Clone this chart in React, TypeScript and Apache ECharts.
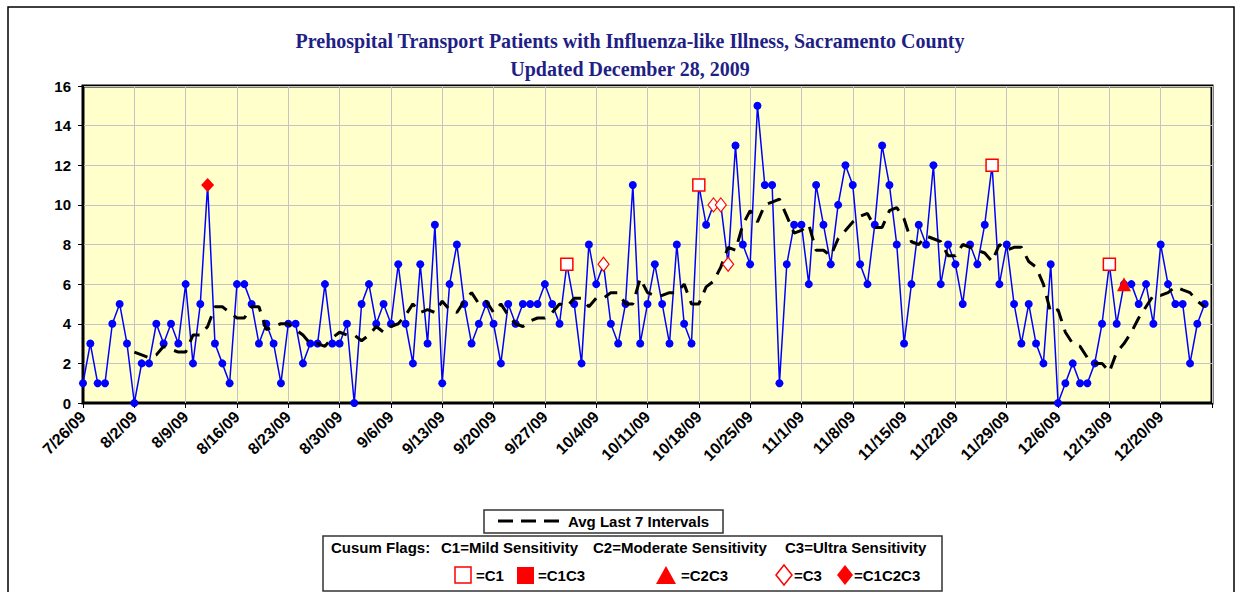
import React, { useEffect, useRef } from "react";
import * as echarts from "echarts";

// Weekly tick labels (every 7 days from 7/26/09)
const tickLabels = [
  "7/26/09", "8/2/09", "8/9/09", "8/16/09", "8/23/09", "8/30/09", "9/6/09",
  "9/13/09", "9/20/09", "9/27/09", "10/4/09", "10/11/09", "10/18/09", "10/25/09",
  "11/1/09", "11/8/09", "11/15/09", "11/22/09", "11/29/09", "12/6/09", "12/13/09",
  "12/20/09",
];

// Daily patient counts, day 0 = 7/26/09
const patients = [
  1, 3, 1, 1, 4, 5, 3,
  0, 2, 2, 4, 3, 4, 3,
  6, 2, 5, 11, 3, 2, 1,
  6, 6, 5, 3, 4, 3, 1,
  4, 4, 2, 3, 3, 6, 3,
  3, 4, 0, 5, 6, 4, 5,
  4, 7, 4, 2, 7, 3, 9,
  1, 6, 8, 5, 3, 4, 5,
  4, 2, 5, 4, 5, 5, 5,
  6, 5, 4, 7, 5, 2, 8,
  6, 7, 4, 3, 5, 11, 3,
  5, 7, 5, 3, 8, 4, 3,
  11, 9, 10, 10, 7, 13, 8,
  7, 15, 11, 11, 1, 7, 9,
  9, 6, 11, 9, 7, 10, 12,
  11, 7, 6, 9, 13, 11, 8,
  3, 6, 9, 8, 12, 6, 8,
  7, 5, 8, 7, 9, 12, 6,
  8, 5, 3, 5, 3, 2, 7,
  0, 1, 2, 1, 1, 2, 4,
  7, 4, 6, 6, 5, 6, 4,
  8, 6, 5, 5, 2, 4, 5,
];

// "Avg Last 7 Intervals", starting at day 7
const avgStartDay = 7;
const avgLast7 = [
  2.57, 2.43, 2.29, 2.43, 2.86, 2.71, 2.57,
  2.57, 3.43, 3.43, 3.86, 4.86, 4.86, 4.57,
  4.29, 4.29, 4.86, 4.86, 3.71, 3.86, 4.0,
  4.0, 3.71, 3.43, 3.0, 3.0, 2.86, 3.29,
  3.57, 3.43, 3.43, 3.14, 3.43, 3.86, 3.57,
  3.86, 4.0, 4.43, 5.0, 4.57, 4.71, 4.57,
  5.14, 4.71, 4.57, 5.14, 5.57, 5.0, 5.14,
  4.57, 5.0, 4.43, 4.0, 3.86, 4.14, 4.29,
  4.29, 4.57, 5.0, 4.86, 5.29, 5.29, 4.86,
  5.29, 5.29, 5.57, 5.57, 5.0, 5.0, 6.29,
  5.57, 5.43, 5.43, 5.57, 5.57, 6.0, 5.0,
  5.0, 5.86, 6.14, 6.86, 7.86, 7.71, 9.0,
  9.71, 9.14, 10.0, 10.14, 10.29, 9.43, 8.57,
  8.71, 9.0, 7.71, 7.71, 7.43, 8.29, 8.71,
  9.14, 9.43, 9.57, 8.86, 8.86, 9.71, 9.86,
  9.29, 8.14, 8.0, 8.43, 8.29, 8.14, 7.43,
  7.43, 8.0, 7.86, 7.71, 7.57, 7.14, 8.0,
  7.71, 7.86, 7.86, 7.14, 6.86, 6.0, 4.57,
  4.71, 3.57, 3.0, 2.86, 2.29, 2.0, 2.0,
  1.57, 2.57, 3.0, 3.57, 4.29, 4.86, 5.43,
  5.43, 5.57, 5.86, 5.71, 5.57, 5.14, 4.86,
];

// Cusum flag days (index into patients)
const c1Days = [66, 84, 124, 140];
const c3Days = [71, 86, 87, 88];
const c2c3Days = [142];
const c1c2c3Days = [17];

const SANS = '"Liberation Sans", Arial, sans-serif';
const SERIF = '"Liberation Serif", "Times New Roman", serif';
const RED = "#ff0000";

function legendText(text: string, x: number, y: number) {
  return {
    type: "text",
    x,
    y,
    style: {
      text,
      fill: "#000",
      fontSize: 15,
      fontWeight: "bold",
      fontFamily: SANS,
      verticalAlign: "middle",
      align: "left",
    },
    z: 100,
  };
}

export default function App() {
  const ref = useRef<HTMLDivElement>(null);

  useEffect(() => {
    if (!ref.current) return;
    const chart = echarts.init(ref.current, undefined, { renderer: "svg" });
    const flagData = (days: number[]) => days.map((d) => [d, patients[d]]);

    const option: any = {
      animation: false,
      backgroundColor: "#ffffff",
      title: {
        text:
          "Prehospital Transport Patients with Influenza-like Illness, Sacramento County\nUpdated December 28, 2009",
        left: 625,
        top: 22,
        textAlign: "center",
        textStyle: {
          fontFamily: SERIF,
          fontWeight: "bold",
          fontSize: 20,
          lineHeight: 28,
          color: "#1f1f85",
        },
      },
      grid: {
        left: 83,
        right: 26,
        top: 86,
        bottom: 189,
        show: true,
        backgroundColor: "#FFFFCC",
        borderColor: "#000",
        borderWidth: 3,
      },
      xAxis: {
        type: "value",
        min: 0,
        max: 154,
        interval: 7,
        axisLine: { show: true, lineStyle: { color: "#000", width: 1 } },
        axisTick: { show: true, length: 5, lineStyle: { color: "#000" } },
        splitLine: { show: true, lineStyle: { color: "#c4c4c4", width: 1 } },
        axisLabel: {
          rotate: 45,
          margin: 11,
          fontSize: 16,
          fontWeight: "bold",
          fontFamily: SANS,
          color: "#000",
          formatter: (v: number) => tickLabels[Math.round(v / 7)] ?? "",
        },
      },
      yAxis: {
        type: "value",
        min: 0,
        max: 16,
        interval: 2,
        axisLine: { show: true, lineStyle: { color: "#000", width: 1 } },
        axisTick: { show: true, length: 5, lineStyle: { color: "#000" } },
        splitLine: { show: true, lineStyle: { color: "#c4c4c4", width: 1 } },
        axisLabel: {
          margin: 12,
          fontSize: 15,
          fontWeight: "bold",
          fontFamily: SANS,
          color: "#000",
        },
      },
      series: [
        {
          name: "Patients",
          type: "line",
          data: patients.map((v, i) => [i, v]),
          symbol: "circle",
          symbolSize: 8,
          lineStyle: { color: "#0000ff", width: 1.5 },
          itemStyle: { color: "#0000ff" },
          z: 3,
        },
        {
          name: "Avg Last 7 Intervals",
          type: "line",
          data: avgLast7.map((v, k) => [k + avgStartDay, v]),
          symbol: "none",
          lineStyle: { color: "#000", width: 3, type: [14, 9] },
          z: 4,
        },
        {
          name: "C1",
          type: "scatter",
          data: flagData(c1Days),
          symbol: "rect",
          symbolSize: 12,
          itemStyle: { color: "#ffffff", borderColor: RED, borderWidth: 1.5, opacity: 1 },
          z: 5,
        },
        {
          name: "C3",
          type: "scatter",
          data: flagData(c3Days),
          symbol: "diamond",
          symbolSize: [11, 14],
          itemStyle: { color: "#ffffff", borderColor: RED, borderWidth: 1.2, opacity: 1 },
          z: 5,
        },
        {
          name: "C2C3",
          type: "scatter",
          data: flagData(c2c3Days),
          symbol: "triangle",
          symbolSize: 14,
          itemStyle: { color: RED, opacity: 1 },
          z: 5,
        },
        {
          name: "C1C2C3",
          type: "scatter",
          data: flagData(c1c2c3Days),
          symbol: "diamond",
          symbolSize: [13, 14],
          itemStyle: { color: RED, opacity: 1 },
          z: 5,
        },
      ],
      graphic: [
        {
          type: "rect",
          shape: { x: 8, y: 7, width: 1226, height: 620 },
          style: { fill: "none", stroke: "#000", lineWidth: 1.5 },
          silent: true,
          z: 0,
        },
        {
          type: "rect",
          shape: { x: 484, y: 510, width: 239, height: 23 },
          style: { fill: "#fff", stroke: "#333", lineWidth: 1.5 },
          z: 90,
        },
        {
          type: "line",
          shape: { x1: 498, y1: 521, x2: 560, y2: 521 },
          style: { stroke: "#000", lineWidth: 3, lineDash: [15, 8] },
          z: 100,
        },
        legendText("Avg Last 7 Intervals", 568, 521.5),
        {
          type: "rect",
          shape: { x: 323, y: 536, width: 619, height: 55 },
          style: { fill: "#fff", stroke: "#333", lineWidth: 1.5 },
          z: 90,
        },
        legendText("Cusum Flags:", 331, 547.5),
        legendText("C1=Mild Sensitivity", 441, 547.5),
        legendText("C2=Moderate Sensitivity", 593, 547.5),
        legendText("C3=Ultra Sensitivity", 785, 547.5),
        {
          type: "rect",
          shape: { x: 455, y: 567, width: 16, height: 16 },
          style: { fill: "#fff", stroke: RED, lineWidth: 1.5 },
          z: 100,
        },
        legendText("=C1", 476, 575.5),
        {
          type: "rect",
          shape: { x: 517, y: 567, width: 17, height: 17 },
          style: { fill: RED },
          z: 100,
        },
        legendText("=C1C3", 538, 575.5),
        {
          type: "polygon",
          shape: { points: [[656, 584], [676, 584], [666, 566]] },
          style: { fill: RED },
          z: 100,
        },
        legendText("=C2C3", 681, 575.5),
        {
          type: "polygon",
          shape: { points: [[784, 565], [792, 575], [784, 585], [776, 575]] },
          style: { fill: "#fff", stroke: RED, lineWidth: 1.5 },
          z: 100,
        },
        legendText("=C3", 794, 575.5),
        {
          type: "polygon",
          shape: { points: [[845, 565], [853, 575], [845, 585], [837, 575]] },
          style: { fill: RED },
          z: 100,
        },
        legendText("=C1C2C3", 854, 575.5),
      ],
    };

    chart.setOption(option);
    return () => chart.dispose();
  }, []);

  return (
    <div
      ref={ref}
      style={{ position: "fixed", left: 0, top: 0, width: 1238, height: 592, background: "#fff" }}
    />
  );
}
